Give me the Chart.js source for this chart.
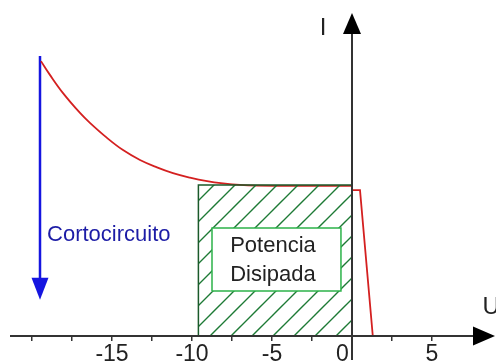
<!DOCTYPE html>
<html>
<head>
<meta charset="utf-8">
<script src="https://cdn.jsdelivr.net/npm/chart.js@4.4.0/dist/chart.umd.min.js"></script>
<style>
  body { margin: 0; background: #fff; }
  #wrap { width: 496px; height: 363px; position: relative; }
</style>
</head>
<body>
<div id="wrap"><canvas id="curva"></canvas></div>
<script>
// curva I-U (U en x, I en y)
const curvaU = [-19.44, -18.88, -18.06, -17.0, -16.38, -15.31, -14.31, -13.25, -12.19, -11.19, -10.13, -9.06, -8.06, -7.0, -5.94, -3.0, 0];
const curvaI = [8.59, 8.16, 7.59, 6.97, 6.66, 6.19, 5.81, 5.5, 5.27, 5.09, 4.95, 4.84, 4.77, 4.72, 4.70, 4.69, 4.69];
const colaU = [0, 0.5, 1.3];
const colaI = [4.56, 4.56, 0];

// potencia disipada (rectangulo) y recuadro del texto
const rectU = [-9.6, -9.6, 0, 0];
const rectI = [0, 4.72, 4.72, 0];
const cajaU = [-8.75, -8.75, -0.69, -0.69, -8.75];
const cajaI = [1.41, 3.375, 3.375, 1.41, 1.41];

// flecha de cortocircuito
const cortoU = [-19.5, -19.5];
const cortoI = [8.75, 1.13];

const tickValues = [-20, -17.5, -15, -12.5, -10, -7.5, -5, -2.5, 0, 2.5, 5];
const tickLabels = { "-15": "-15", "-10": "-10", "-5": "-5", "0": "0   ", "5": "5" };

const FONT = "'Liberation Sans', Arial, sans-serif";

function pts(xs, ys) {
  return xs.map((x, i) => ({ x: x, y: ys[i] }));
}

// rayado diagonal verde
const tile = document.createElement("canvas");
tile.width = 21;
tile.height = 21;
const tctx = tile.getContext("2d");
tctx.strokeStyle = "#1d7a35";
tctx.lineWidth = 1.4;
tctx.beginPath();
tctx.moveTo(-2, 23); tctx.lineTo(23, -2);
tctx.moveTo(-2, 2); tctx.lineTo(2, -2);
tctx.moveTo(19, 23); tctx.lineTo(23, 19);
tctx.stroke();
const rayado = tctx.createPattern(tile, "repeat");

const dibujos = {
  id: "dibujos",
  afterDatasetsDraw(chart) {
    const ctx = chart.ctx;
    const x = chart.scales.x;
    const y = chart.scales.y;
    const x0 = x.getPixelForValue(0);
    const y0 = y.getPixelForValue(0);
    ctx.save();

    // ejes
    ctx.strokeStyle = "#333";
    ctx.fillStyle = "#000";
    ctx.lineWidth = 2;
    ctx.beginPath();
    ctx.moveTo(10, y0); ctx.lineTo(474, y0);
    ctx.moveTo(x0, 360); ctx.lineTo(x0, 33);
    ctx.stroke();
    ctx.beginPath();
    ctx.moveTo(473, y0 - 9.5); ctx.lineTo(495, y0); ctx.lineTo(473, y0 + 9.5);
    ctx.closePath(); ctx.fill();
    ctx.beginPath();
    ctx.moveTo(x0 - 9, 34); ctx.lineTo(x0, 13); ctx.lineTo(x0 + 9, 34);
    ctx.closePath(); ctx.fill();

    // punta de la flecha azul
    const bx = x.getPixelForValue(cortoU[1]);
    const by = y.getPixelForValue(cortoI[1]);
    ctx.fillStyle = "#1515e0";
    ctx.beginPath();
    ctx.moveTo(bx - 8.5, by - 22); ctx.lineTo(bx + 8.5, by - 22); ctx.lineTo(bx, by);
    ctx.closePath(); ctx.fill();

    // textos
    ctx.textBaseline = "middle";
    ctx.font = "22px " + FONT;
    ctx.fillStyle = "#1c1ca6";
    ctx.textAlign = "left";
    ctx.fillText("Cortocircuito", x.getPixelForValue(-19.06), y.getPixelForValue(3.16));
    ctx.fillStyle = "#222";
    ctx.textAlign = "center";
    ctx.fillText("Potencia", x.getPixelForValue(-4.94), y.getPixelForValue(2.81));
    ctx.fillText("Disipada", x.getPixelForValue(-4.94), y.getPixelForValue(1.9));
    ctx.font = "24px " + FONT;
    ctx.fillText("I", x.getPixelForValue(-1.8), y.getPixelForValue(9.6));
    ctx.fillText("U", x.getPixelForValue(8.7), y.getPixelForValue(0.88));
    ctx.restore();
  },
};

const ctx = document.getElementById("curva").getContext("2d");
const chart = new Chart(ctx, {
  type: "line",
  data: {
    datasets: [
      {
        data: pts(cajaU, cajaI),
        borderColor: "#2db34a",
        borderWidth: 1.5,
        backgroundColor: "#ffffff",
        fill: "shape",
        pointRadius: 0,
        tension: 0,
      },
      {
        data: pts(rectU, rectI),
        borderColor: "#1a5a2a",
        borderWidth: 1.5,
        backgroundColor: rayado,
        fill: "origin",
        pointRadius: 0,
        tension: 0,
      },
      {
        data: pts(curvaU, curvaI),
        borderColor: "#d42020",
        borderWidth: 1.8,
        fill: false,
        pointRadius: 0,
        tension: 0.4,
      },
      {
        data: pts(colaU, colaI),
        borderColor: "#d42020",
        borderWidth: 1.8,
        fill: false,
        pointRadius: 0,
        tension: 0,
      },
      {
        data: pts(cortoU, cortoI.map((v, i) => (i === 1 ? v + 0.5 : v))),
        borderColor: "#1515e0",
        borderWidth: 2.5,
        fill: false,
        pointRadius: 0,
        tension: 0,
      },
    ],
  },
  options: {
    responsive: true,
    maintainAspectRatio: false,
    animation: false,
    layout: { padding: 0 },
    plugins: {
      legend: { display: false },
      tooltip: { enabled: false },
    },
    scales: {
      x: {
        type: "linear",
        min: -22,
        max: 9,
        border: { display: false },
        grid: {
          drawOnChartArea: false,
          drawTicks: true,
          tickLength: 5,
          color: "#333",
          lineWidth: 1.5,
        },
        afterBuildTicks: (scale) => {
          scale.ticks = tickValues.map((v) => ({ value: v }));
        },
        afterFit: (scale) => {
          scale.height = 27;
        },
        ticks: {
          autoSkip: false,
          maxRotation: 0,
          padding: 0,
          color: "#222",
          font: { family: FONT, size: 23 },
          callback: (v) => tickLabels[String(v)] || "",
        },
      },
      y: {
        type: "linear",
        display: false,
        min: 0,
        max: 10.5,
      },
    },
  },
  plugins: [dibujos],
});
</script>
</body>
</html>
